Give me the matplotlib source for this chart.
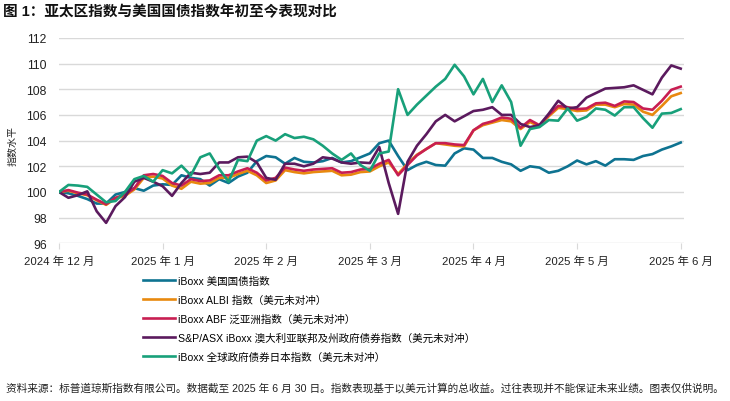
import matplotlib
matplotlib.use("Agg")
import matplotlib.pyplot as plt
import numpy as np

# roughly every second trading day, 2024-12 to 2025-06-30
MONTH_LABELS = ["2024 年 12 月", "2025 年 1 月", "2025 年 2 月", "2025 年 3 月",
                "2025 年 4 月", "2025 年 5 月", "2025 年 6 月"]

US_TREASURY = [100.0, 99.9, 99.7, 99.45, 99.1, 99.1, 99.8, 100.0, 100.3, 100.1,
               100.5, 100.6, 100.55, 101.3, 101.1, 101.0, 100.5, 101.0, 100.7, 101.2,
               101.5, 102.4, 102.8, 102.7, 102.2, 102.65, 102.35, 102.3, 102.4, 102.65,
               102.3, 102.4, 102.7, 103.0, 103.8, 104.0, 102.8, 101.7, 102.1, 102.35,
               102.1, 102.05, 103.0, 103.4, 103.3, 102.65, 102.65, 102.35, 102.15, 101.65,
               102.0, 101.9, 101.5, 101.65, 102.0, 102.45, 102.15, 102.4, 102.05, 102.55,
               102.55, 102.5, 102.8, 102.95, 103.3, 103.55, 103.85]

ALBI = [100.0, 100.1, 99.9, 99.75, 99.35, 99.0, 99.5, 99.7, 100.2, 101.1,
        101.2, 101.05, 100.5, 100.25, 100.8, 100.65, 100.7, 101.1, 101.1, 101.4,
        101.65, 101.3, 100.7, 100.9, 101.7, 101.55, 101.45, 101.55, 101.6, 101.65,
        101.3, 101.35, 101.55, 101.6, 102.0, 102.3, 101.4, 102.2, 102.9, 103.35,
        103.8, 103.7, 103.6, 103.55, 104.8, 105.2, 105.4, 105.6, 105.5, 104.9,
        105.45, 105.1, 105.9, 106.55, 106.45, 106.3, 106.35, 106.8, 106.8, 106.6,
        106.85, 106.8, 106.25, 106.0, 106.7, 107.45, 107.7]

ABF = [100.0, 100.15, 99.95, 99.8, 99.4, 99.05, 99.55, 99.8, 100.3, 101.3,
       101.4, 101.25, 100.7, 100.5, 101.0, 100.85, 100.9, 101.3, 101.3, 101.6,
       101.85, 101.5, 100.9, 101.1, 101.9, 101.75, 101.65, 101.75, 101.8, 101.85,
       101.5, 101.55, 101.75, 101.8, 102.2, 102.5, 101.3, 102.1, 102.85, 103.35,
       103.8, 103.8, 103.7, 103.65, 104.8, 105.3, 105.5, 105.8, 105.7, 105.0,
       105.6, 105.2, 106.0, 106.7, 106.6, 106.45, 106.5, 106.9, 106.95, 106.7,
       107.05, 107.0, 106.5, 106.4, 107.1, 107.95, 108.2]

AUSTRALIA = [100.0, 99.55, 99.75, 100.05, 98.5, 97.6, 98.9, 99.6, 100.8, 101.1,
             100.8, 100.45, 99.7, 100.7, 101.5, 101.4, 101.5, 102.3, 102.3, 102.7,
             102.75, 102.3, 101.1, 100.95, 102.2, 102.2, 102.0, 102.2, 102.7, 102.6,
             102.3, 102.2, 102.3, 102.25, 103.5, 100.7, 98.3, 102.35, 103.6, 104.5,
             105.5, 106.0, 105.5, 105.9, 106.3, 106.4, 106.6, 106.0, 106.0, 105.3,
             105.05, 105.2, 106.1, 107.1, 106.5, 106.6, 107.35, 107.7, 108.05, 108.1,
             108.15, 108.3, 107.95, 107.6, 108.9, 109.85, 109.6]

JAPAN = [100.0, 100.55, 100.5, 100.4, 99.8, 99.2, 99.3, 100.0, 101.0, 101.25,
         100.8, 101.7, 101.45, 102.05, 101.3, 102.7, 103.0, 101.8, 100.8, 102.5,
         102.4, 104.0, 104.35, 104.0, 104.5, 104.2, 104.3, 104.1, 103.6, 103.0,
         102.5, 103.0, 102.1, 101.65, 103.0, 103.15, 108.0, 106.0, 106.8, 107.5,
         108.2, 108.8, 109.9, 109.0, 107.6, 108.8, 107.0, 108.3, 107.0, 103.6,
         104.9, 105.05, 105.6, 105.55, 106.5, 105.55, 105.85, 106.5, 106.4, 105.95,
         106.6, 106.6, 105.75, 105.0, 106.1, 106.15, 106.45]

SERIES = [
    ("iBoxx 美国国债指数", US_TREASURY, "#0e7391"),
    ("iBoxx ALBI 指数（美元未对冲）", ALBI, "#e8890f"),
    ("iBoxx ABF 泛亚洲指数（美元未对冲）", ABF, "#c81e52"),
    ("S&P/ASX iBoxx 澳大利亚联邦及州政府债券指数（美元未对冲）", AUSTRALIA, "#5b1a5e"),
    ("iBoxx 全球政府债券日本指数（美元未对冲）", JAPAN, "#18a07a"),
]

TITLE = "图 1：亚太区指数与美国国债指数年初至今表现对比"
Y_LABEL = "指数水平"
FOOTNOTE = ("资料来源：标普道琼斯指数有限公司。数据截至 2025 年 6 月 30 日。"
            "指数表现基于以美元计算的总收益。过往表现并不能保证未来业绩。图表仅供说明。")

plt.rcParams["font.family"] = ["Liberation Sans", "Noto Sans CJK SC", "DejaVu Sans"]

fig = plt.figure(figsize=(7.3, 4.02), dpi=100)
ax = fig.add_axes([59 / 730, 1 - 244.4 / 402, 625 / 730, 205.6 / 402])

x = np.arange(len(US_TREASURY))
for label, values, color in SERIES:
    ax.plot(x, values, color=color, lw=1.9, label=label, solid_joinstyle="round")

ax.set_ylim(96, 112)
ax.set_yticks(np.arange(96, 113, 2))
ax.set_xlim(0, 66.35)
ax.set_xticks(np.arange(0, 67, 11))
ax.set_xticklabels(MONTH_LABELS)

ax.grid(axis="y", color="#d9d9d9", lw=1)
ax.set_axisbelow(True)
for side in ["top", "right", "left", "bottom"]:
    ax.spines[side].set_visible(False)
ax.tick_params(axis="y", length=0, pad=9, labelsize=8.7, colors="#222222")
ax.tick_params(axis="x", length=4, color="#d9d9d9", pad=5, labelsize=8.2, colors="#222222")

fig.text(12.5 / 730, 1 - 146 / 402, Y_LABEL, rotation=90, ha="center", va="center",
         fontsize=7.2, color="#222222")
fig.text(3 / 730, 1 - 12 / 402, TITLE, ha="left", va="center", fontsize=10.5,
         fontweight="bold", color="#111111")
fig.text(6 / 730, 1 - 388 / 402, FOOTNOTE, ha="left", va="center", fontsize=7.68,
         color="#222222")

handles, labels = ax.get_legend_handles_labels()
fig.legend(handles, labels, loc="upper left", bbox_to_anchor=(143 / 730, 1 - 277 / 402),
           frameon=False, fontsize=7.6, handlelength=3.05, handletextpad=0.3,
           labelspacing=0.82, borderpad=0, borderaxespad=0)

fig.savefig("out.png", dpi=100)
